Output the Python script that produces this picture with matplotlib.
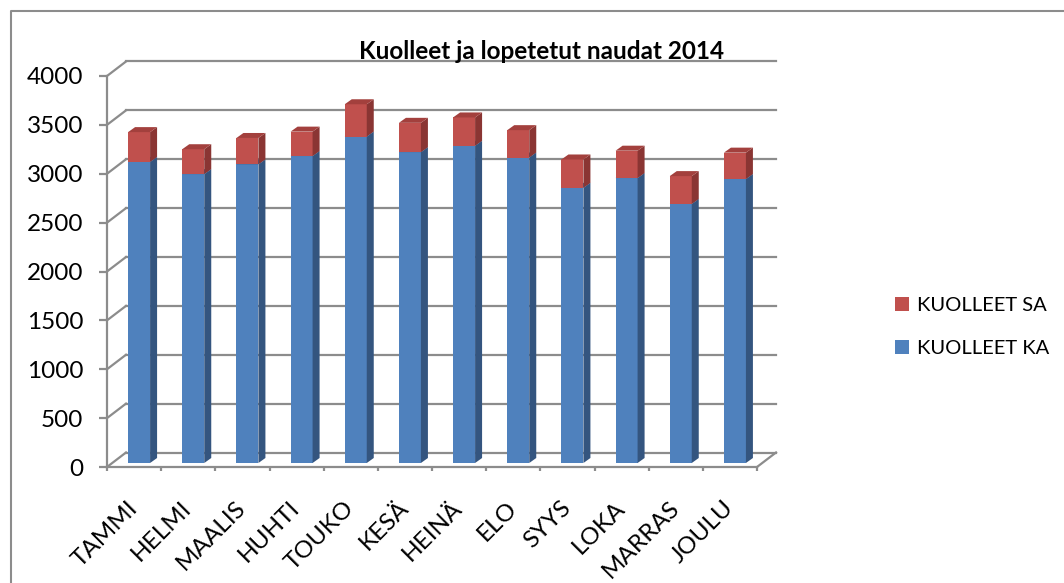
import numpy as np
import matplotlib
matplotlib.use("Agg")
import matplotlib.pyplot as plt
from matplotlib.patches import Polygon, Patch
from matplotlib.lines import Line2D

# Monthly data.
months = ["TAMMI", "HELMI", "MAALIS", "HUHTI", "TOUKO", "KESÄ",
          "HEINÄ", "ELO", "SYYS", "LOKA", "MARRAS", "JOULU"]
kuolleet_ka = [3080, 2955, 3055, 3140, 3340, 3180, 3245, 3125, 2815, 2915, 2650, 2905]
kuolleet_sa = [305, 255, 270, 250, 330, 300, 290, 280, 290, 280, 285, 270]
y_ticks = [0, 500, 1000, 1500, 2000, 2500, 3000, 3500, 4000]

plt.rcParams["font.family"] = ["Lato", "DejaVu Sans"]

blue_front, blue_side, blue_top = "#4F81BD", "#34557F", "#3E6596"
red_front, red_side, red_top = "#C0504D", "#8A3533", "#A3403D"
grid_col = "#8C8C8C"

fig = plt.figure(figsize=(10.64, 5.83), dpi=100)
# axes = front plane of the 3D box
ax = fig.add_axes([107 / 1064, 116 / 583, 650 / 1064, 391 / 583])
ax.set_xlim(0, len(months))
ax.set_ylim(0, 4000)

# pseudo 3D depth offsets in data units
px_x = len(months) / 650.0          # categories per pixel
px_y = 4000 / 391.0                 # value per pixel
wall_dx, wall_dy = 19 * px_x, 14.5 * px_y
bar_ox, bar_oy = 5 * px_x, 4 * px_y
bar_dx, bar_dy = 7 * px_x, 5 * px_y
bar_w = 22 * px_x

# back wall gridlines + side wall diagonals
for v in y_ticks:
    ax.plot([wall_dx, len(months) + wall_dx], [v + wall_dy, v + wall_dy],
            color=grid_col, lw=1.6, clip_on=False, zorder=1)
    ax.plot([0, wall_dx], [v, v + wall_dy], color=grid_col, lw=1.6,
            clip_on=False, zorder=1)
# floor right edge
ax.plot([len(months), len(months) + wall_dx], [0, wall_dy], color=grid_col,
        lw=1.6, clip_on=False, zorder=1)


def draw_block(x0, y0, h, front, side, top):
    x1 = x0 + bar_w
    y1 = y0 + h
    ax.add_patch(Polygon([(x0, y0), (x1, y0), (x1, y1), (x0, y1)],
                         closed=True, fc=front, ec="none", zorder=3, clip_on=False))
    ax.add_patch(Polygon([(x1, y0), (x1 + bar_dx, y0 + bar_dy),
                          (x1 + bar_dx, y1 + bar_dy), (x1, y1)],
                         closed=True, fc=side, ec="none", zorder=3, clip_on=False))
    ax.add_patch(Polygon([(x0, y1), (x1, y1), (x1 + bar_dx, y1 + bar_dy),
                          (x0 + bar_dx, y1 + bar_dy)],
                         closed=True, fc=top, ec="none", zorder=3, clip_on=False))


for i in range(len(months)):
    x0 = i + 0.5 - bar_w / 2 + bar_ox
    draw_block(x0, bar_oy, kuolleet_ka[i], blue_front, blue_side, blue_top)
    draw_block(x0, bar_oy + kuolleet_ka[i], kuolleet_sa[i], red_front, red_side, red_top)

# axes styling
for s in ["top", "right"]:
    ax.spines[s].set_visible(False)
for s in ["left", "bottom"]:
    ax.spines[s].set_color(grid_col)
    ax.spines[s].set_linewidth(1.6)
ax.patch.set_alpha(0)

ax.set_yticks(y_ticks)
ax.set_yticklabels([str(v) for v in y_ticks])
ax.tick_params(axis="y", length=6, width=1.6, color=grid_col, pad=11,
               labelsize=17.5, labelcolor="#000000")

ax.set_xticks(np.arange(len(months)) + 0.5)
ax.set_xticklabels(months, rotation=45, ha="right", va="center",
                   rotation_mode="anchor")
ax.tick_params(axis="x", which="major", length=0, pad=27, labelsize=17.5,
               labelcolor="#000000")
ax.set_xticks(np.arange(len(months) + 1), minor=True)
ax.tick_params(axis="x", which="minor", length=3, width=1.6, color=grid_col)

# title
fig.text(0.509, 0.912, "Kuolleet ja lopetetut naudat 2014", ha="center",
         va="center", fontsize=17.5, fontweight="bold")

# legend (SA first, as in the original)
handles = [Patch(fc=red_front, ec="none"), Patch(fc=blue_front, ec="none")]
fig.legend(handles, ["KUOLLEET SA", "KUOLLEET KA"], loc="center left",
           bbox_to_anchor=(877 / 1064, 1 - 327 / 583), frameon=False,
           fontsize=14.5, handlelength=0.7, handleheight=0.7,
           handletextpad=0.4, labelspacing=1.3)

# outer chart border (cut off at right and bottom in the reference)
fig.add_artist(Line2D([11 / 1064, 11 / 1064, 1.0], [0.0, 1 - 11 / 583, 1 - 11 / 583],
                      transform=fig.transFigure, color="#8C8C8C", lw=1.5))

plt.savefig("out.png", dpi=100)
